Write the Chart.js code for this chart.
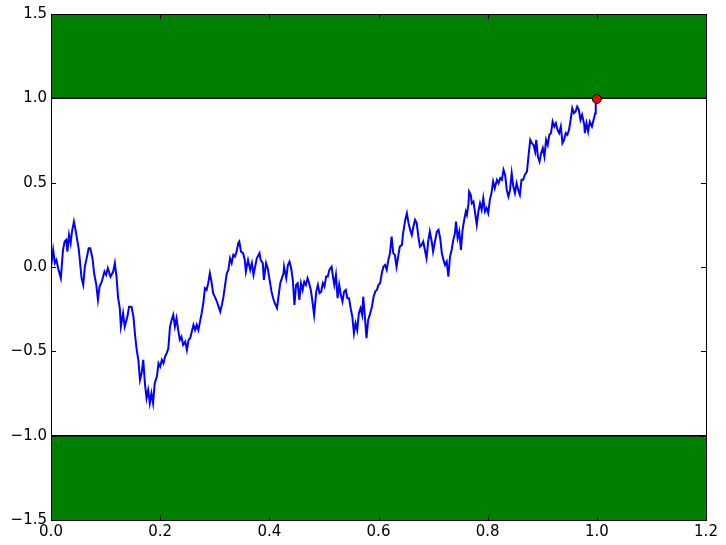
<!DOCTYPE html>
<html>
<head>
<meta charset="utf-8">
<script src="https://cdn.jsdelivr.net/npm/chart.js@4/dist/chart.umd.min.js"></script>
<style>
  html, body { margin: 0; padding: 0; background: #fff; }
  #wrap { width: 726px; height: 545px; }
</style>
</head>
<body>
<div id="wrap"><canvas id="walk"></canvas></div>
<script>
// ── DATA ─────────────────────────────
const times = [
  0.000, 0.004, 0.007, 0.010, 0.013, 0.018, 0.022, 0.025, 0.028, 0.030,
  0.033, 0.036, 0.038, 0.042, 0.045, 0.048, 0.051, 0.056, 0.059, 0.062,
  0.066, 0.069, 0.072, 0.076, 0.079, 0.083, 0.086, 0.089, 0.093, 0.098,
  0.101, 0.104, 0.109, 0.114, 0.117, 0.120, 0.123, 0.126, 0.128, 0.132,
  0.135, 0.140, 0.143, 0.147, 0.148, 0.151, 0.154, 0.157, 0.160, 0.163,
  0.166, 0.169, 0.172, 0.175, 0.178, 0.181, 0.184, 0.187, 0.190, 0.194,
  0.197, 0.200, 0.203, 0.206, 0.209, 0.212, 0.215, 0.218, 0.221, 0.224,
  0.227, 0.230, 0.233, 0.236, 0.239, 0.242, 0.246, 0.249, 0.252, 0.255,
  0.258, 0.261, 0.264, 0.267, 0.270, 0.273, 0.276, 0.279, 0.282, 0.285,
  0.288, 0.291, 0.294, 0.297, 0.300, 0.304, 0.307, 0.310, 0.313, 0.316,
  0.319, 0.322, 0.325, 0.328, 0.331, 0.334, 0.337, 0.340, 0.343, 0.345,
  0.348, 0.352, 0.355, 0.357, 0.361, 0.365, 0.368, 0.371, 0.374, 0.377,
  0.382, 0.384, 0.388, 0.390, 0.394, 0.397, 0.401, 0.404, 0.407, 0.410,
  0.414, 0.416, 0.420, 0.423, 0.426, 0.427, 0.431, 0.434, 0.437, 0.440,
  0.443, 0.446, 0.449, 0.452, 0.455, 0.458, 0.461, 0.464, 0.467, 0.470,
  0.473, 0.476, 0.479, 0.482, 0.486, 0.489, 0.492, 0.495, 0.498, 0.501,
  0.504, 0.507, 0.510, 0.514, 0.517, 0.519, 0.522, 0.525, 0.528, 0.531,
  0.534, 0.537, 0.540, 0.543, 0.546, 0.549, 0.552, 0.555, 0.558, 0.561,
  0.564, 0.567, 0.570, 0.572, 0.575, 0.578, 0.581, 0.584, 0.588, 0.591,
  0.594, 0.597, 0.600, 0.603, 0.606, 0.609, 0.612, 0.615, 0.618, 0.621,
  0.624, 0.627, 0.630, 0.633, 0.636, 0.639, 0.643, 0.645, 0.649, 0.652,
  0.655, 0.658, 0.661, 0.664, 0.667, 0.670, 0.673, 0.676, 0.679, 0.682,
  0.685, 0.688, 0.691, 0.694, 0.698, 0.700, 0.704, 0.707, 0.710, 0.713,
  0.716, 0.719, 0.722, 0.725, 0.728, 0.731, 0.734, 0.737, 0.740, 0.742,
  0.745, 0.748, 0.751, 0.754, 0.757, 0.760, 0.762, 0.765, 0.766, 0.769,
  0.771, 0.774, 0.777, 0.780, 0.783, 0.786, 0.789, 0.792, 0.795, 0.798,
  0.801, 0.804, 0.807, 0.810, 0.813, 0.817, 0.820, 0.823, 0.826, 0.829,
  0.832, 0.835, 0.838, 0.841, 0.844, 0.847, 0.850, 0.853, 0.856, 0.859,
  0.862, 0.865, 0.868, 0.872, 0.875, 0.878, 0.881, 0.884, 0.887, 0.889,
  0.892, 0.895, 0.898, 0.901, 0.904, 0.907, 0.910, 0.913, 0.916, 0.919,
  0.922, 0.925, 0.928, 0.931, 0.934, 0.937, 0.940, 0.943, 0.946, 0.949,
  0.952, 0.955, 0.958, 0.961, 0.964, 0.967, 0.970, 0.973, 0.977, 0.978,
  0.981, 0.984, 0.987, 0.991, 0.994, 0.997, 0.998, 1.000
];

const walk = [
  0.000, 0.101, 0.023, 0.042, -0.007, -0.066, 0.101, 0.151, 0.161, 0.091,
  0.190, 0.141, 0.200, 0.269, 0.220, 0.161, 0.101, -0.066, -0.106, 0.002,
  0.062, 0.111, 0.111, 0.052, -0.037, -0.106, -0.195, -0.116, -0.087, -0.027,
  -0.047, -0.007, -0.057, -0.027, 0.023, -0.057, -0.185, -0.244, -0.353, -0.274,
  -0.353, -0.294, -0.235, -0.235, -0.244, -0.294, -0.403, -0.492, -0.551, -0.670,
  -0.630, -0.551, -0.689, -0.778, -0.729, -0.808, -0.749, -0.808, -0.689, -0.650,
  -0.571, -0.591, -0.551, -0.571, -0.531, -0.511, -0.482, -0.353, -0.314, -0.284,
  -0.353, -0.304, -0.373, -0.432, -0.413, -0.462, -0.442, -0.492, -0.432, -0.422,
  -0.383, -0.343, -0.373, -0.343, -0.373, -0.324, -0.274, -0.215, -0.126, -0.136,
  -0.096, -0.037, -0.087, -0.155, -0.176, -0.205, -0.235, -0.265, -0.225, -0.176,
  -0.106, -0.037, -0.017, 0.052, 0.023, 0.072, 0.062, 0.091, 0.141, 0.151,
  0.091, 0.082, 0.042, -0.027, 0.042, -0.017, 0.023, -0.047, 0.002, 0.052,
  0.082, 0.042, 0.023, -0.077, 0.023, -0.007, -0.087, -0.146, -0.185, -0.215,
  -0.244, -0.195, -0.096, -0.066, -0.037, 0.002, -0.066, 0.012, 0.032, -0.007,
  -0.077, -0.225, -0.106, -0.096, -0.195, -0.096, -0.136, -0.087, -0.106, -0.066,
  -0.096, -0.136, -0.205, -0.284, -0.146, -0.106, -0.155, -0.146, -0.096, -0.116,
  -0.057, -0.057, -0.017, 0.002, -0.066, -0.106, -0.047, -0.185, -0.106, -0.165,
  -0.205, -0.146, -0.136, -0.185, -0.185, -0.244, -0.294, -0.393, -0.333, -0.373,
  -0.274, -0.244, -0.284, -0.176, -0.294, -0.422, -0.314, -0.284, -0.235, -0.176,
  -0.146, -0.136, -0.106, -0.096, -0.037, 0.002, 0.012, -0.017, 0.042, 0.082,
  0.180, 0.082, 0.072, 0.002, 0.062, 0.121, 0.131, 0.200, 0.279, 0.319,
  0.260, 0.220, 0.190, 0.240, 0.279, 0.260, 0.180, 0.121, 0.131, 0.151,
  0.101, 0.052, 0.151, 0.210, 0.141, 0.091, 0.161, 0.210, 0.220, 0.171,
  0.082, 0.042, 0.012, 0.032, -0.057, 0.062, 0.101, 0.161, 0.200, 0.269,
  0.171, 0.210, 0.101, 0.220, 0.279, 0.329, 0.309, 0.378, 0.447, 0.428,
  0.378, 0.388, 0.319, 0.250, 0.329, 0.378, 0.339, 0.408, 0.329, 0.349,
  0.319, 0.398, 0.438, 0.507, 0.467, 0.517, 0.497, 0.527, 0.517, 0.576,
  0.546, 0.457, 0.418, 0.457, 0.556, 0.477, 0.438, 0.497, 0.457, 0.428,
  0.517, 0.517, 0.546, 0.566, 0.665, 0.754, 0.734, 0.724, 0.684, 0.754,
  0.655, 0.625, 0.675, 0.705, 0.655, 0.754, 0.724, 0.784, 0.794, 0.862,
  0.833, 0.853, 0.813, 0.794, 0.833, 0.734, 0.754, 0.794, 0.784, 0.813,
  0.872, 0.942, 0.912, 0.922, 0.951, 0.932, 0.872, 0.902, 0.843, 0.794,
  0.853, 0.803, 0.862, 0.833, 0.872, 0.912, 0.961, 0.996
];

// barrier levels and the outer edge of the shaded bands
const barriers = [-1.0, 1.0];
const bandEdges = [-1.5, 1.5];
const hitTime = 1.0;
const hitValue = 0.996;

const xTicks = [0.0, 0.2, 0.4, 0.6, 0.8, 1.0, 1.2];
const yTicks = [-1.5, -1.0, -0.5, 0.0, 0.5, 1.0, 1.5];

const xMin = 0, xMax = 1.2;

// ── HELPERS ─────────────────────────────
function fmt(v) {
  return v.toFixed(1).replace("-", "\u2212");
}

// inward ticks on all four sides, plus the frame
const frameTicks = {
  id: "frameTicks",
  afterDraw(chart) {
    const { ctx, chartArea: a, scales } = chart;
    const len = 5;
    ctx.save();
    ctx.strokeStyle = "#000";
    ctx.lineWidth = 1;
    ctx.beginPath();
    xTicks.forEach(t => {
      const x = Math.round(scales.x.getPixelForValue(t)) + 0.5;
      ctx.moveTo(x, a.bottom); ctx.lineTo(x, a.bottom - len);
      ctx.moveTo(x, a.top); ctx.lineTo(x, a.top + len);
    });
    yTicks.forEach(t => {
      const y = Math.round(scales.y.getPixelForValue(t)) + 0.5;
      ctx.moveTo(a.left, y); ctx.lineTo(a.left + len, y);
      ctx.moveTo(a.right, y); ctx.lineTo(a.right - len, y);
    });
    ctx.stroke();
    ctx.strokeRect(Math.round(a.left) + 0.5, Math.round(a.top) + 0.5,
      Math.round(a.right - a.left), Math.round(a.bottom - a.top));
    ctx.restore();
  }
};

// ── CHART ─────────────────────────────
const pathPoints = times.map((t, i) => ({ x: t, y: walk[i] }));

new Chart(document.getElementById("walk"), {
  type: "line",
  data: {
    datasets: [
      {
        label: "path",
        data: pathPoints,
        borderColor: "#0000ff",
        borderWidth: 2,
        pointRadius: 0,
        tension: 0,
        fill: false,
        order: 1
      },
      {
        label: "hit",
        data: [{ x: hitTime, y: hitValue }],
        showLine: false,
        pointRadius: 4.5,
        pointBackgroundColor: "#ff0000",
        pointBorderColor: "#000",
        pointBorderWidth: 1,
        order: 0
      },
      {
        label: "upper band",
        data: [{ x: xMin, y: barriers[1] }, { x: xMax, y: barriers[1] }],
        borderColor: "#000",
        borderWidth: 1.5,
        backgroundColor: "#008000",
        pointRadius: 0,
        fill: { value: bandEdges[1] },
        order: 2
      },
      {
        label: "lower band",
        data: [{ x: xMin, y: barriers[0] }, { x: xMax, y: barriers[0] }],
        borderColor: "#000",
        borderWidth: 1.5,
        backgroundColor: "#008000",
        pointRadius: 0,
        fill: { value: bandEdges[0] },
        order: 2
      }
    ]
  },
  options: {
    responsive: true,
    maintainAspectRatio: false,
    animation: false,
    events: [],
    layout: { padding: { top: 14, right: 20, left: 0, bottom: 0 } },
    plugins: {
      legend: { display: false },
      tooltip: { enabled: false }
    },
    scales: {
      x: {
        type: "linear",
        min: xMin,
        max: xMax,
        afterFit: s => { s.height = 25; },
        afterBuildTicks: s => { s.ticks = xTicks.map(v => ({ value: v })); },
        grid: { display: false, drawTicks: false },
        border: { display: false },
        ticks: {
          padding: 3,
          color: "#000",
          font: { family: "DejaVu Sans", size: 15 },
          callback: v => fmt(v)
        }
      },
      y: {
        type: "linear",
        min: bandEdges[0],
        max: bandEdges[1],
        afterFit: s => { s.width = 51; },
        afterBuildTicks: s => { s.ticks = yTicks.map(v => ({ value: v })); },
        grid: { display: false, drawTicks: false },
        border: { display: false },
        ticks: {
          padding: 4,
          color: "#000",
          font: { family: "DejaVu Sans", size: 15 },
          callback: v => fmt(v)
        }
      }
    }
  },
  plugins: [frameTicks]
});
</script>
</body>
</html>
